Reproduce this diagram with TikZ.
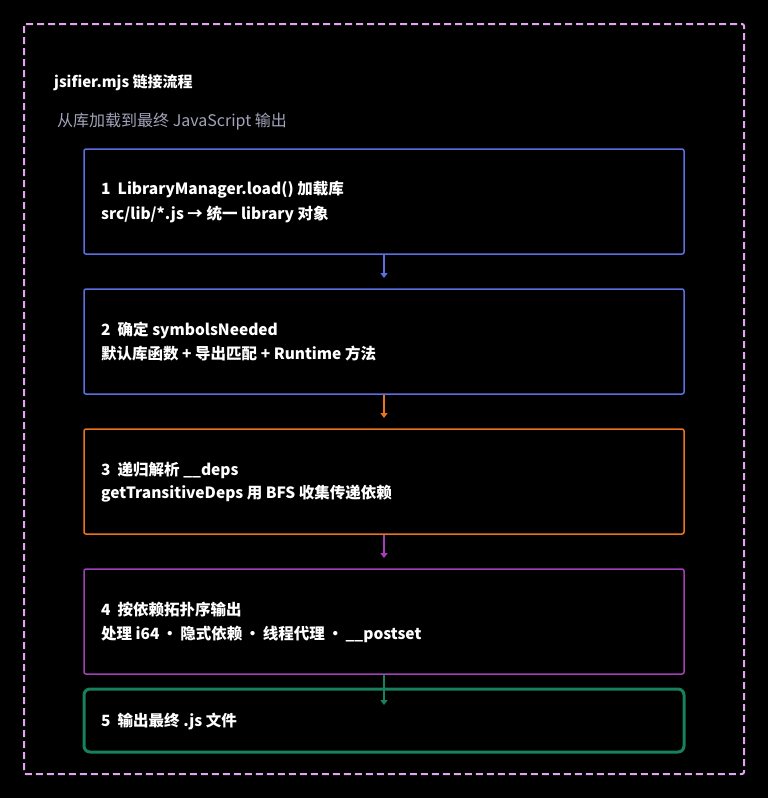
\documentclass[tikz,border=0pt]{standalone}
\usepackage{fontspec}
\setmainfont{Noto Sans CJK SC}
\usetikzlibrary{arrows.meta}
\definecolor{pinkd}{HTML}{E3A3EE}
\definecolor{blu}{HTML}{5B70E0}
\definecolor{org}{HTML}{E8741C}
\definecolor{pur}{HTML}{A43FB8}
\definecolor{grn}{HTML}{17805C}
\definecolor{sub}{HTML}{A3A3BA}
\tikzset{
 box/.style={draw=#1, line width=1.5pt, fill=black, rounded corners=2pt},
 txt/.style={text=white, anchor=west, font=\fontsize{15.5}{18}\selectfont\bfseries, inner sep=0},
 arr/.style={draw=#1, line width=2.4pt, -{Triangle[length=5pt,width=7pt]}}
}
\newcommand{\sep}{\,·\,}
\begin{document}
\begin{tikzpicture}[x=1pt,y=-1pt]
\useasboundingbox (0,0) rectangle (768,798);
\fill[black] (0,0) rectangle (768,798);
\draw[pinkd, line width=2pt, dash pattern=on 7pt off 4pt, rounded corners=2pt] (24,24) rectangle (744,774);
\node[txt, font=\fontsize{15}{18}\selectfont\bfseries] (title) at (54,83) {jsifier.mjs 链接流程};
\node[txt, text=sub, font=\fontsize{16}{18}\selectfont] (subt) at (57,122) {从库加载到最终 JavaScript 输出};
\draw[box=blu] (84,149) rectangle (684,254);
\draw[box=blu] (84,289) rectangle (684,394);
\draw[box=org] (84,429) rectangle (684,534);
\draw[box=pur] (84,569) rectangle (684,674);
\draw[box=grn, line width=3pt, rounded corners=6pt] (84,689) rectangle (684,752);
\node[txt] (t1a) at (101,190) {1\ \ LibraryManager.load() 加载库};
\node[txt] (t1b) at (101,214) {src/lib/*.js → 统一 library 对象};
\node[txt] (t2a) at (101,330) {2\ \ 确定 symbolsNeeded};
\node[txt] (t2b) at (101,354) {默认库函数 + 导出匹配 + Runtime 方法};
\node[txt] (t3a) at (101,470) {3\ \ 递归解析 \_\_deps};
\node[txt] (t3b) at (101,494) {getTransitiveDeps 用 BFS 收集传递依赖};
\node[txt] (t4a) at (101,610) {4\ \ 按依赖拓扑序输出};
\node[txt] (t4b) at (101,634) {处理 i64\sep 隐式依赖\sep 线程代理\sep \_\_postset};
\node[txt] (t5) at (101,721) {5\ \ 输出最终 .js 文件};
\coordinate (a1s) at (384,255); \coordinate (a1e) at (384,278);
\coordinate (a2s) at (384,395); \coordinate (a2e) at (384,418);
\coordinate (a3s) at (384,535); \coordinate (a3e) at (384,558);
\coordinate (a4s) at (384,675); \coordinate (a4e) at (384,705);
\draw[arr=blu] (a1s) -- (a1e);
\draw[arr=org] (a2s) -- (a2e);
\draw[arr=pur] (a3s) -- (a3e);
\draw[arr=grn] (a4s) -- (a4e);
\end{tikzpicture}
\end{document}
